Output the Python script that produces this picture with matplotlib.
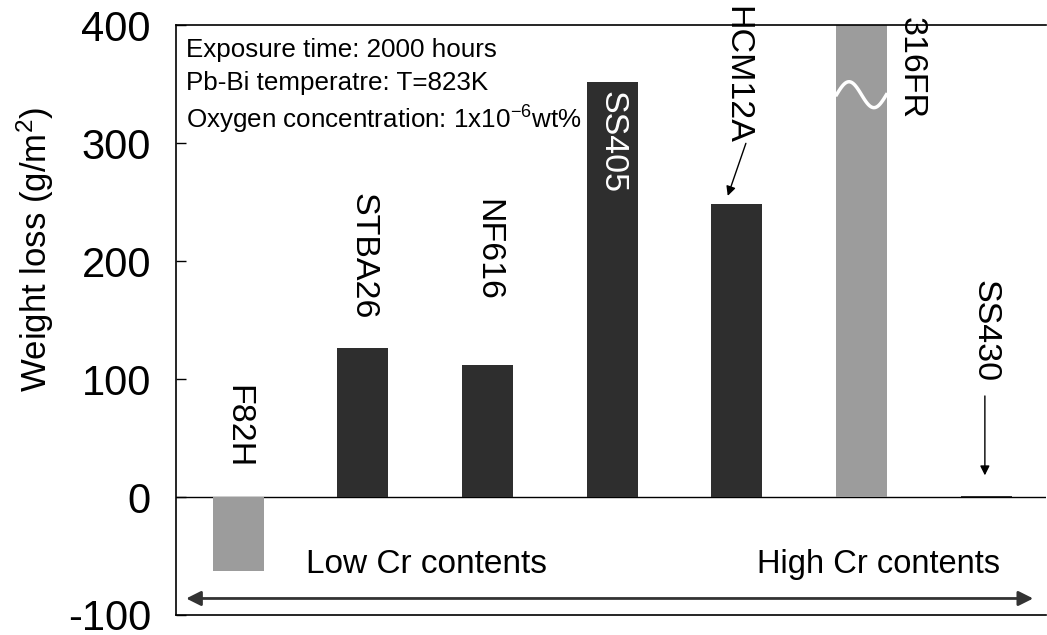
import numpy as np
import matplotlib
matplotlib.use("Agg")
import matplotlib.pyplot as plt

plt.rcParams['font.family'] = ['Liberation Sans', 'DejaVu Sans']
plt.rcParams['axes.unicode_minus'] = False
plt.rcParams['mathtext.fontset'] = 'custom'
plt.rcParams['mathtext.rm'] = 'Liberation Sans'
plt.rcParams['mathtext.it'] = 'Liberation Sans'

# data
steels = ['F82H', 'STBA26', 'NF616', 'SS405', 'HCM12A', '316FR', 'SS430']
weight_loss = [-63, 126, 112, 352, 248, 400, 1]   # 316FR is off scale
bar_colors = ['#9c9c9c', '#2e2e2e', '#2e2e2e', '#2e2e2e', '#2e2e2e', '#9c9c9c', '#2e2e2e']
yticks = [-100, 0, 100, 200, 300, 400]

x = np.arange(len(steels))

fig = plt.figure(figsize=(10.47, 6.35), dpi=100)
ax = fig.add_axes([0.168, 0.0315, 0.831, 0.929])

ax.bar(x, weight_loss, width=0.41, color=bar_colors, edgecolor='none', zorder=2)
ax.axhline(0, color='black', lw=1.0, zorder=1)

ax.set_xlim(-0.5, 6.48)
ax.set_ylim(-100, 400)
ax.set_yticks(yticks)
ax.set_xticks([])
ax.tick_params(axis='y', direction='in', length=7, width=1, labelsize=30, pad=18)
ax.spines['right'].set_visible(False)
for s in ['left', 'top', 'bottom']:
    ax.spines[s].set_linewidth(1.2)
ax.set_ylabel('Weight loss (g/m$^2$)', fontsize=25)
ax.yaxis.set_label_coords(-0.138, 0.62)

# break mark on the off-scale bar
t = np.linspace(0, 1, 40)
ax.plot(x[5] - 0.2 + 0.4 * t, 341 + 11 * np.sin(2 * np.pi * t), color='white', lw=2.5, zorder=3)

# bar labels (rotated)
lab_pos = {
    'F82H': (0.0, 60, 'black'),
    'STBA26': (1.0, 204, 'black'),
    'NF616': (2.0, 209, 'black'),
    'SS405': (3.0, 301, 'white'),
    'HCM12A': (4.0, 358, 'black'),
    '316FR': (5.4, 364, 'black'),
    'SS430': (5.99, 141, 'black'),
}
for name, (lx, ly, c) in lab_pos.items():
    ax.text(lx, ly, name, rotation=270, ha='center', va='center', fontsize=24.5,
            color=c, zorder=4, clip_on=False)

ax.annotate('', xy=(3.92, 253), xytext=(4.08, 302),
            arrowprops=dict(arrowstyle='-|>', color='black', lw=1, mutation_scale=14))
ax.annotate('', xy=(5.99, 16), xytext=(5.99, 88),
            arrowprops=dict(arrowstyle='-|>', color='black', lw=1, mutation_scale=14))

# conditions
ax.text(0.0115, 0.958, 'Exposure time: 2000 hours', transform=ax.transAxes,
        fontsize=18.7, va='center', ha='left')
ax.text(0.0115, 0.902, 'Pb-Bi temperatre: T=823K', transform=ax.transAxes,
        fontsize=18.7, va='center', ha='left')
ax.text(0.0115, 0.839, 'Oxygen concentration: 1x10$^{\\mathrm{-6}}$wt%', transform=ax.transAxes,
        fontsize=18.7, va='center', ha='left')

# Cr content arrow
ax.text(0.54, -57, 'Low Cr contents', fontsize=24, ha='left', va='center')
ax.text(6.11, -57, 'High Cr contents', fontsize=23.5, ha='right', va='center')
ax.annotate('', xy=(6.40, -86), xytext=(-0.44, -86),
            arrowprops=dict(arrowstyle='<|-|>', color='#333333', lw=2, mutation_scale=22))

fig.savefig('out.png', dpi=100)
